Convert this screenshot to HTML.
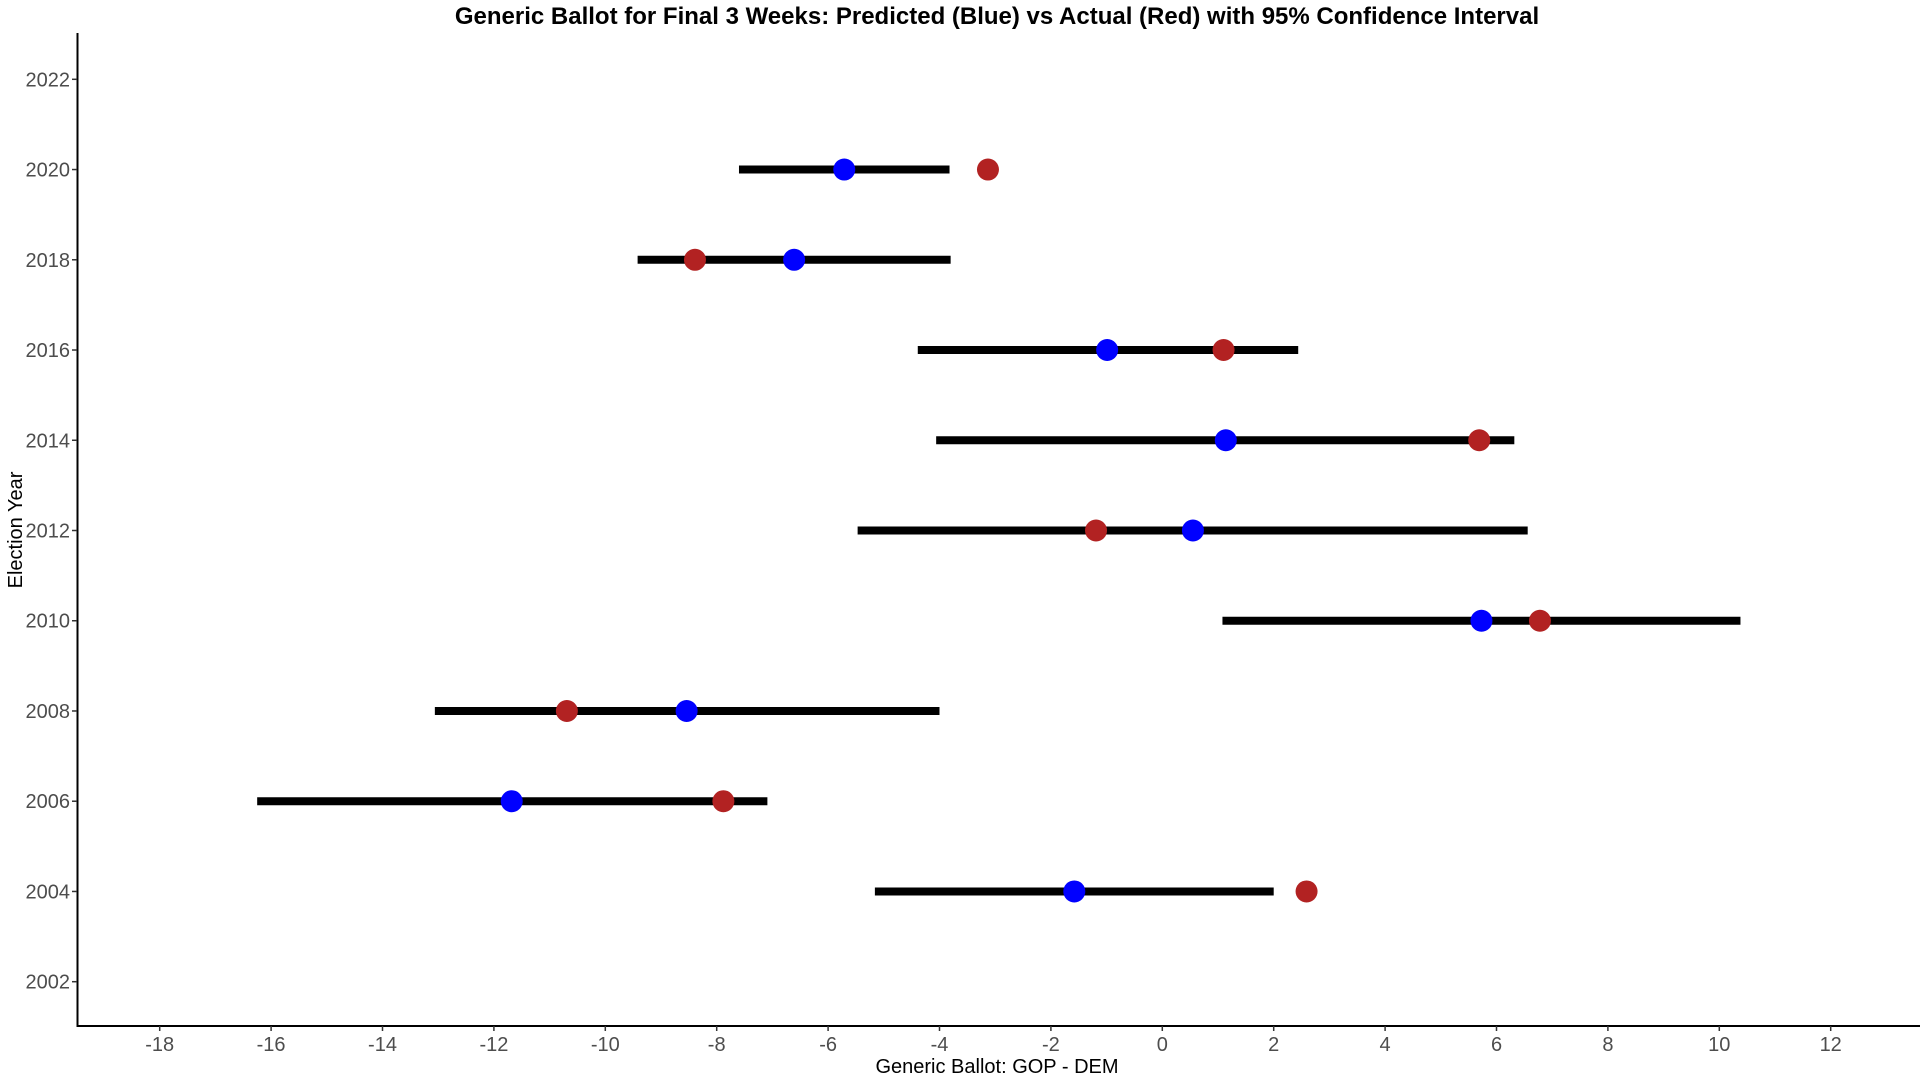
<!DOCTYPE html>
<html><head><meta charset="utf-8"><style>
html,body{margin:0;padding:0;background:#fff;}
svg{display:block;font-family:"Liberation Sans",Arial,sans-serif;}
</style></head><body>
<svg id="chart" width="1920" height="1080" viewBox="0 0 1920 1080">
<text x="997" y="24" text-anchor="middle" font-size="24" font-weight="bold" fill="#000">Generic Ballot for Final 3 Weeks: Predicted (Blue) vs Actual (Red) with 95% Confidence Interval</text>
<g id="axes"></g>
<g id="marks"></g>
<text x="997" y="1073" text-anchor="middle" font-size="20" fill="#000">Generic Ballot: GOP - DEM</text>
<text transform="translate(22,530) rotate(-90)" text-anchor="middle" font-size="20" fill="#000">Election Year</text>
</svg>
<script>
const years = [2020, 2018, 2016, 2014, 2012, 2010, 2008, 2006, 2004];
const ciLow = [-7.6, -9.42, -4.39, -4.06, -5.47, 1.08, -13.06, -16.25, -5.16];
const ciHigh = [-3.82, -3.8, 2.44, 6.32, 6.56, 10.38, -4.0, -7.09, 2.0];
const predicted = [-5.71, -6.61, -0.99, 1.14, 0.55, 5.73, -8.54, -11.68, -1.58];
const actual = [-3.13, -8.39, 1.1, 5.69, -1.19, 6.78, -10.69, -7.88, 2.59];
const xTicks = [-18, -16, -14, -12, -10, -8, -6, -4, -2, 0, 2, 4, 6, 8, 10, 12];
const yTicks = [2002, 2004, 2006, 2008, 2010, 2012, 2014, 2016, 2018, 2020, 2022];

const NS = "http://www.w3.org/2000/svg";
function X(v){ return 1162.3 + 55.7 * v; }
function Y(y){ return 79.3 + (2022 - y) * 45.12; }
function mk(tag, attrs, parent){ const e=document.createElementNS(NS,tag); for(const k in attrs) e.setAttribute(k,attrs[k]); parent.appendChild(e); return e; }
const axes=document.getElementById('axes'), marks=document.getElementById('marks');

let yl=mk('line',{x1:77.5,y1:33,x2:77.5,y2:1026,stroke:'#000','stroke-width':2},axes);


let xl=mk('line',{x1:76.5,y1:1026,x2:1920,y2:1026,stroke:'#000','stroke-width':2},axes);



xTicks.forEach(t=>{
  const tk=mk('line',{x1:X(t),y1:1026,x2:X(t),y2:1031,stroke:'#333','stroke-width':1.5},axes);
  
  
  const lb=mk('text',{x:X(t),y:1051,'text-anchor':'middle','font-size':20,fill:'#4d4d4d'},axes);
  lb.textContent=t;
  
  
});
yTicks.forEach(t=>{
  const tk=mk('line',{x1:72,y1:Y(t),x2:77,y2:Y(t),stroke:'#333','stroke-width':1.5},axes);
  
  
  const lb=mk('text',{x:70,y:Y(t)+7,'text-anchor':'end','font-size':20,fill:'#4d4d4d'},axes);
  lb.textContent=t;
  
  
});

years.forEach((yr,i)=>{
  const y=Y(yr);
  const ci=mk('line',{x1:X(ciLow[i]),y1:y,x2:X(ciHigh[i]),y2:y,stroke:'#000','stroke-width':8},marks);
  
  
  const p=mk('circle',{cx:X(predicted[i]),cy:y,r:11,fill:'#0000ff'},marks);
  
  
  const a=mk('circle',{cx:X(actual[i]),cy:y,r:11,fill:'#b22222'},marks);
  
  
});
</script>
</body></html>
